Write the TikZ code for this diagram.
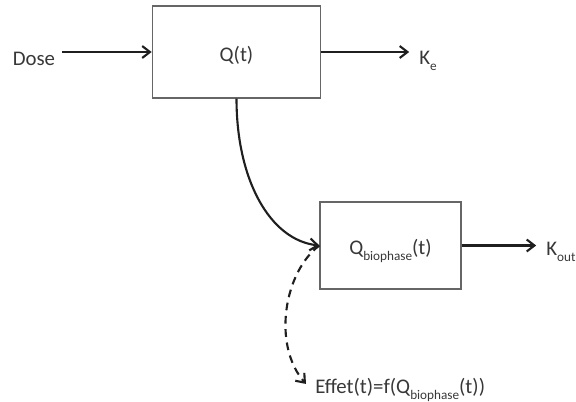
\documentclass[tikz,border=0pt]{standalone}
\usepackage{fontspec}
\setmainfont{Carlito}
\usepackage{tikz}
\usetikzlibrary{arrows.meta}
\newcommand\bsub[1]{\raisebox{-0.29em}{\fontsize{9.4}{10}\selectfont #1}}

\begin{document}
\begin{tikzpicture}[
  x=0.025cm, y=-0.025cm,
  every node/.style={font=\fontsize{14.8}{17}\selectfont, text=black!78},
  box/.style={draw=black!60, line width=0.9pt, align=center, text height=13.5pt, text depth=0.7pt},
  lbl/.style={inner sep=0pt},
  flow/.style={draw=black!88, line width=1.5pt, -{Straight Barb[length=5.5pt,width=8.5pt,line width=1.5pt]}},
]
\useasboundingbox (0,0) rectangle (576,401);
\node[box, minimum width=4.21cm, minimum height=2.3cm] (q) at (236.5,52) {Q(t)};
\node[box, minimum width=3.525cm, minimum height=2.175cm] (qb) at (390.5,245.5) {Q\bsub{biophase}(t)};
\node[lbl, anchor=base west] (dose) at (12.5,65) {Dose};
\node[lbl, anchor=base west] (ke) at (419,64.5) {K\bsub{e}};
\node[lbl, anchor=base west] (kout) at (546,255) {K\bsub{out}};
\node[lbl, anchor=base west] (effet) at (315,393.5) {Effet(t)=f(Q\bsub{biophase}(t))};
\draw[flow, shorten <=5pt] (dose.east |- q.west) -- (q.west);
\draw[flow, shorten >=7pt] (q.east) -- (ke.west |- q.east);
\draw[flow, shorten >=7pt] (qb.east) -- (kout.west |- qb.east);
\draw[flow] (q.south) .. controls (236.5,180) and (270,240) .. (qb.west);
\draw[flow, dash pattern=on 5.5pt off 4pt] (qb.west) .. controls (284,272) and (272,345) .. ([xshift=-6.4pt,yshift=6.8pt]effet.base west);
\end{tikzpicture}
\end{document}
